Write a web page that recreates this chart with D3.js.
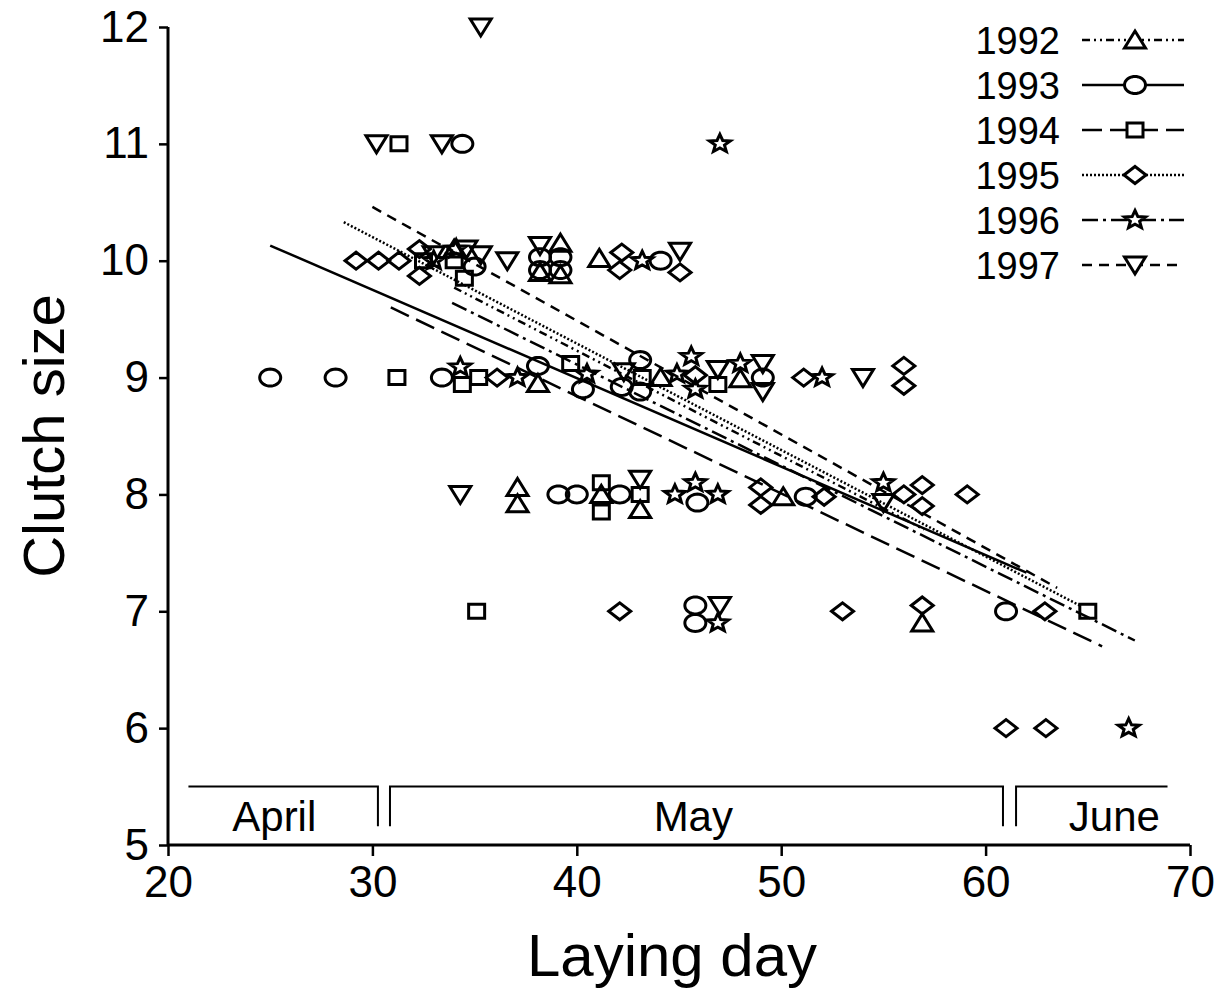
<!DOCTYPE html>
<html>
<head>
<meta charset="utf-8">
<script src="https://cdn.jsdelivr.net/npm/d3@7"></script>
<style>
  html, body { margin: 0; padding: 0; background: #fff; }
  svg { display: block; }
  text { font-family: "Liberation Sans", Arial, sans-serif; fill: #000; }
</style>
</head>
<body>
<svg id="chart" width="1225" height="992"></svg>
<script>
// Years and their marker shapes / regression line dashes
const years = ["1992", "1993", "1994", "1995", "1996", "1997"];
const shapes = ["triangle", "circle", "square", "diamond", "star", "triangleDown"];
const dashes = ["8,4,2,4,2,4", null, "20,8", "2,2", "16,5,3,5", "10,7"];

// Observations: [laying day, clutch size] per year
const obs1992 = [[34.0,10.1],[38.2,9.9],[39.2,10.15],[39.2,9.88],[41.1,10.02],[38.1,8.95],[44.1,9.0],[48.0,8.99],
  [37.1,8.06],[37.1,7.92],[41.2,8.0],[43.1,7.87],[50.1,7.98],[56.9,6.9]];
const obs1993 = [[34.4,11],[35.0,9.95],[38.2,10.03],[38.2,9.92],[39.2,10.03],[39.2,9.92],[44.1,10.0],
  [25.0,9],[28.2,9],[33.4,9],[38.1,9.1],[40.3,8.9],[43.1,9.15],[42.2,8.92],[43.1,8.88],[49.1,9.0],
  [39.1,8],[40.0,8],[42.1,8],[45.9,7.93],[51.2,7.98],[45.8,7.05],[45.8,6.9],[61.0,7]];
const obs1994 = [[31.3,11],[32.5,10.0],[34.0,10.0],[34.5,9.85],[31.2,9],[34.4,8.94],[35.2,9],[39.7,9.12],
  [43.2,9.0],[46.9,8.94],[41.2,8.1],[41.2,7.85],[43.1,8.0],[35.1,7],[65.0,7]];
const obs1995 = [[29.2,10],[30.3,10],[31.3,10],[32.3,10.1],[32.3,9.87],[42.2,10.07],[42.1,9.92],[45.05,9.9],
  [36.1,9],[45.8,9.02],[51.1,9],[56.0,9.1],[56.0,8.93],[49.0,8.06],[49.0,7.91],[52.1,7.98],[56.0,8.0],
  [56.9,8.08],[56.9,7.9],[59.1,8.0],[42.1,7],[53.0,7],[56.9,7.05],[62.9,7],[61.0,6],[62.95,6]];
const obs1996 = [[47.0,11],[33.0,10.0],[34.1,10.1],[43.2,10.0],[34.3,9.09],[37.1,9],[40.5,9.03],[44.9,9.03],
  [45.6,9.18],[45.8,8.9],[48.0,9.12],[52.0,9],[44.8,8.0],[45.8,8.1],[46.9,8.0],[55.0,8.1],[46.9,6.9],[67.0,6]];
const obs1997 = [[35.3,12],[30.2,11],[33.4,11],[33.0,10.05],[34.6,10.1],[35.3,10.05],[36.6,10.0],[38.2,10.13],
  [45.05,10.08],[42.3,9.05],[46.9,9.07],[49.1,9.12],[49.1,8.88],[54.0,9],[34.3,8.0],[43.1,8.13],[55.0,7.93],
  [47.0,7.05]];
const observations = [obs1992, obs1993, obs1994, obs1995, obs1996, obs1997];

// Fitted regression lines: start/end laying day and clutch size
const regStartDay = [34.0, 25.0, 30.9, 28.6, 33.9, 30.0];
const regStartVal = [9.77, 10.13, 9.60, 10.33, 9.64, 10.46];
const regEndDay   = [57.0, 62.0, 65.7, 64.6, 67.3, 63.5];
const regEndVal   = [7.70, 7.33, 6.70, 7.05, 6.75, 7.20];

// Month bands along the bottom of the plot
const months = ["April", "May", "June"];
const monthFrom = [21.0, 30.86, 61.49];
const monthTo = [30.27, 60.85, 68.9];
const monthLabelDay = [25.2, 45.7, 66.3];

// Axis ticks
const xTicks = [20, 30, 40, 50, 60, 70];
const yTicks = [5, 6, 7, 8, 9, 10, 11, 12];

const svg = d3.select("#chart");
const x = d3.scaleLinear().domain([20, 70]).range([168, 1190]);
const y = d3.scaleLinear().domain([5, 12]).range([845, 27]);

// Marker path builder (shapes drawn slightly wider than tall)
function markerPath(shape) {
  const p = d3.path();
  if (shape === "circle") {
    const rx = 10.5, ry = 8.5, n = 40;
    for (let i = 0; i <= n; i++) {
      const a = (i / n) * 2 * Math.PI;
      const px = rx * Math.cos(a), py = ry * Math.sin(a);
      if (i === 0) p.moveTo(px, py); else p.lineTo(px, py);
    }
    p.closePath();
  } else if (shape === "square") {
    p.moveTo(-8, -7); p.lineTo(8, -7); p.lineTo(8, 7); p.lineTo(-8, 7); p.closePath();
  } else if (shape === "diamond") {
    p.moveTo(-11, 0); p.lineTo(0, -8.5); p.lineTo(11, 0); p.lineTo(0, 8.5); p.closePath();
  } else if (shape === "triangle") {
    p.moveTo(0, -9); p.lineTo(10.5, 8); p.lineTo(-10.5, 8); p.closePath();
  } else if (shape === "triangleDown") {
    p.moveTo(-10.5, -8); p.lineTo(10.5, -8); p.lineTo(0, 9); p.closePath();
  } else if (shape === "star") {
    const R = 10, r = 4.4;
    for (let i = 0; i < 10; i++) {
      const a = -Math.PI / 2 + i * Math.PI / 5;
      const rad = i % 2 === 0 ? R : r;
      const px = rad * Math.cos(a) * 1.1, py = rad * Math.sin(a) * 0.95;
      if (i === 0) p.moveTo(px, py); else p.lineTo(px, py);
    }
    p.closePath();
  }
  return p.toString();
}

// Axes
const xAxis = d3.axisBottom(x).tickValues(xTicks).tickSize(11).tickPadding(10).tickFormat(d3.format("d"));
const yAxis = d3.axisLeft(y).tickValues(yTicks).tickSize(9).tickPadding(10).tickFormat(d3.format("d"));

const gx = svg.append("g").attr("transform", "translate(0,845)").call(xAxis);
const gy = svg.append("g").attr("transform", "translate(168,0)").call(yAxis);
[gx, gy].forEach(g => {
  g.select(".domain").attr("stroke", "#000").attr("stroke-width", 3);
  g.selectAll(".tick line").attr("stroke", "#000").attr("stroke-width", 2.5);
  g.selectAll(".tick text").attr("font-size", 44).attr("font-family", "Liberation Sans, Arial, sans-serif").attr("fill", "#000");
});
gy.select(".domain").attr("d", `M0,${y(5)}V${y(12)}`);
gx.select(".domain").attr("d", `M${x(20)},0H${x(70)}`);

// Axis titles
svg.append("text").attr("x", 672).attr("y", 976).attr("text-anchor", "middle")
  .attr("font-size", 60).text("Laying day");
svg.append("text").attr("transform", `translate(64,${y(8.5)}) rotate(-90)`).attr("text-anchor", "middle")
  .attr("font-size", 58).text("Clutch size");

// Month brackets
const bandTop = y(5.5), bandBottom = y(5.16);
const band = svg.append("g").attr("fill", "none").attr("stroke", "#000").attr("stroke-width", 2);
months.forEach((m, i) => {
  const x0 = x(monthFrom[i]), x1 = x(monthTo[i]);
  let d;
  if (i === 0) d = `M${x0},${bandTop}H${x1}V${bandBottom}`;
  else if (i === months.length - 1) d = `M${x0},${bandBottom}V${bandTop}H${x1}`;
  else d = `M${x0},${bandBottom}V${bandTop}H${x1}V${bandBottom}`;
  band.append("path").attr("d", d);
  svg.append("text").attr("x", x(monthLabelDay[i])).attr("y", y(5.12)).attr("text-anchor", "middle")
    .attr("font-size", 42).text(m);
});

// Regression lines
const lines = svg.append("g").attr("fill", "none").attr("stroke", "#000").attr("stroke-width", 2.5);
years.forEach((yr, i) => {
  lines.append("line")
    .attr("x1", x(regStartDay[i])).attr("y1", y(regStartVal[i]))
    .attr("x2", x(regEndDay[i])).attr("y2", y(regEndVal[i]))
    .attr("stroke-dasharray", dashes[i]);
});

// Data markers
const pts = svg.append("g").attr("fill", "none").attr("stroke", "#000").attr("stroke-width", 3);
observations.forEach((arr, i) => {
  pts.selectAll(null).data(arr).enter().append("path")
    .attr("d", markerPath(shapes[i]))
    .attr("transform", d => `translate(${x(d[0])},${y(d[1])})`);
});

// Legend
const legend = svg.append("g");
years.forEach((yr, i) => {
  const cy = 40 + i * 45;
  legend.append("text").attr("x", 1060).attr("y", cy + 14).attr("text-anchor", "end")
    .attr("font-size", 38).text(yr);
  legend.append("line").attr("x1", 1082).attr("x2", 1184).attr("y1", cy).attr("y2", cy)
    .attr("stroke", "#000").attr("stroke-width", 2.5).attr("stroke-dasharray", dashes[i]);
  legend.append("path").attr("d", markerPath(shapes[i]))
    .attr("transform", `translate(1135,${cy})`)
    .attr("fill", "#fff").attr("stroke", "#000").attr("stroke-width", 3);
});
</script>
</body>
</html>
